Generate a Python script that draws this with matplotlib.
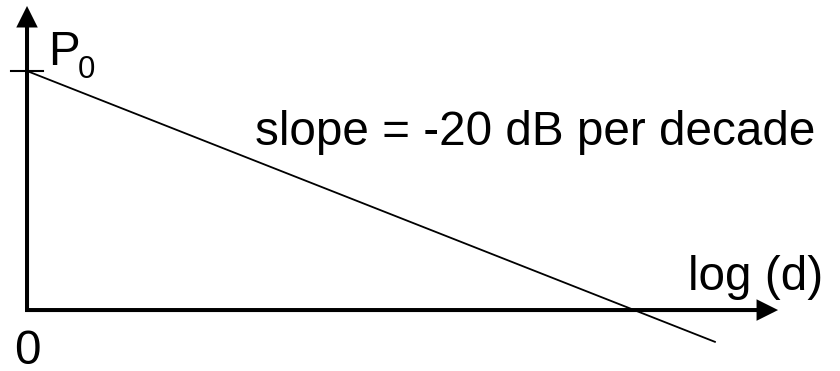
import matplotlib
matplotlib.use("Agg")
import matplotlib.pyplot as plt

plt.rcParams['font.family'] = ['Liberation Sans', 'DejaVu Sans']

# path-loss sketch: received power vs log distance (normalised units)
log_d = [0.0, 1.133]
power = [1.0, -0.133]
p0 = 1.0

x_max = 1.237   # end of log(d) axis arrow
y_max = 1.272   # end of power axis arrow

fig = plt.figure(figsize=(8.4, 3.71), dpi=100)
ax = fig.add_axes([0, 0, 1, 1])
ax.set_xlim(-0.0445, 1.339)
ax.set_ylim(-0.255, 1.297)
ax.axis('off')

arrow = dict(arrowstyle='-|>', mutation_scale=27, lw=2.9, color='black',
             shrinkA=0, shrinkB=0, joinstyle='miter', capstyle='butt')
# axes with arrows
ax.annotate('', xy=(0, y_max), xytext=(0, -0.008), arrowprops=arrow)
ax.annotate('', xy=(x_max, 0), xytext=(-0.003, 0), arrowprops=arrow)

# tick at P0
ax.plot([-0.026, 0.026], [p0, p0], color='black', lw=1.5)

# slope line
ax.plot(log_d, power, color='black', lw=1.3)

fs = 34.3
# P with a lowered, smaller 0 (as in the sketch)
ax.text(0.035, 1.025, 'P', fontsize=fs, va='baseline', ha='left')
ax.text(0.083, 0.971, '0', fontsize=22.5, va='baseline', ha='left')
ax.text(0.376, 0.690, 'slope = -20 dB per decade', fontsize=fs,
        va='baseline', ha='left')
ax.text(1.089, 0.084, 'log (d)', fontsize=fs, va='baseline', ha='left')
ax.text(-0.022, -0.225, '0', fontsize=fs, va='baseline', ha='left')

fig.savefig('out.png', dpi=100)
